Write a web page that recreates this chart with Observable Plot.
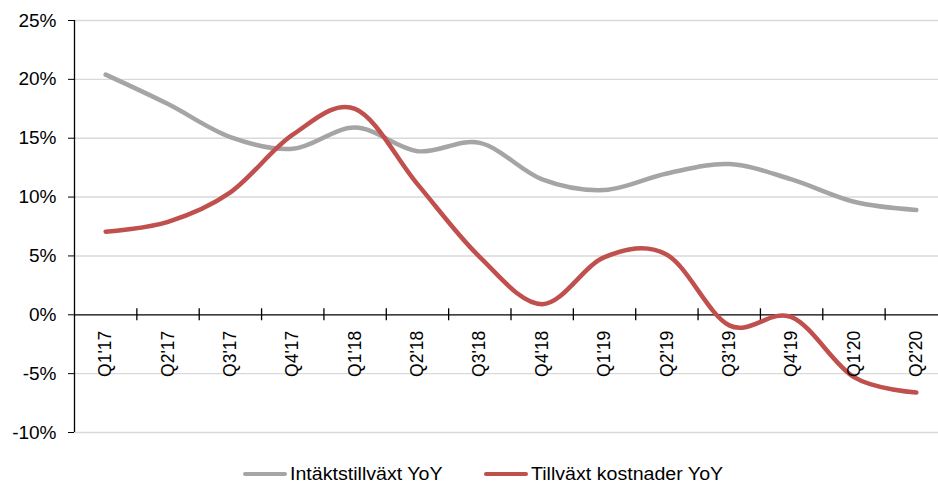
<!DOCTYPE html>
<html><head><meta charset="utf-8">
<script src="https://cdn.jsdelivr.net/npm/d3@7"></script>
<script src="https://cdn.jsdelivr.net/npm/@observablehq/plot@0.6"></script>
<style>
body{margin:0;background:#fff;overflow:hidden;font-family:"Liberation Sans",Arial,sans-serif;}
#legend{position:relative;height:28px;width:938px;}
.item{position:absolute;top:5px;height:28px;display:flex;align-items:center;}
.sw{width:44px;height:4.5px;border-radius:2px;margin-right:3px;}
.lt{font-size:17.5px;color:#000;transform:scaleX(1.12);transform-origin:left center;white-space:nowrap;}
</style></head><body>
<div id="chart"></div>
<div id="legend"></div>
<script>
const quarters = ["Q1'17","Q2'17","Q3'17","Q4'17","Q1'18","Q2'18","Q3'18","Q4'18","Q1'19","Q2'19","Q3'19","Q4'19","Q1'20","Q2'20"];
const revenueGrowth = [20.4, 17.9, 15.1, 14.1, 15.9, 13.9, 14.6, 11.5, 10.6, 12.0, 12.8, 11.5, 9.6, 8.9];
const costGrowth = [7.06, 7.9, 10.4, 15.3, 17.5, 11.1, 4.9, 0.9, 4.9, 5.1, -0.9, -0.2, -5.3, -6.6];
const yTicks = [-10, -5, 0, 5, 10, 15, 20, 25];
const seriesNames = ["Intäktstillväxt YoY", "Tillväxt kostnader YoY"];
const seriesColors = ["#a5a5a5", "#c0504d"];

const idx = quarters.map((_, i) => i);
const boundaries = d3.range(0.5, quarters.length, 1);

const plot = Plot.plot({
  width: 938, height: 455,
  marginLeft: 74, marginRight: 0, marginTop: 20, marginBottom: 23,
  x: {type: "linear", domain: [-0.5, quarters.length - 0.5], range: [74, 947], axis: null},
  y: {domain: [-10, 25], axis: null},
  style: {fontFamily: "'Liberation Sans', Arial, sans-serif", background: "#fff", overflow: "hidden"},
  marks: [
    Plot.ruleY(yTicks.filter(d => d !== 0), {stroke: "#d9d9d9", strokeWidth: 1.4}),
    Plot.axisY(yTicks, {anchor: "left", tickFormat: d => d + "%", tickSize: 6, tickPadding: 12, fontSize: 19, stroke: "#000", color: "#000", label: null}),
    Plot.ruleX([-0.5], {y1: -10, y2: 25, stroke: "#000", strokeWidth: 1.3}),
    Plot.ruleY([0], {stroke: "#000", strokeWidth: 1.3}),
    Plot.ruleX(boundaries, {y1: 0, y2: 0, insetTop: -6, insetBottom: -6, stroke: "#000", strokeWidth: 1.3}),
    Plot.line(idx, {x: i => i, y: i => revenueGrowth[i], curve: "cardinal", stroke: seriesColors[0], strokeWidth: 4.5, strokeLinecap: "round"}),
    Plot.line(idx, {x: i => i, y: i => costGrowth[i], curve: "cardinal", stroke: seriesColors[1], strokeWidth: 4.5, strokeLinecap: "round"}),
    Plot.text(idx, {x: i => i, y: () => 0, text: i => quarters[i], rotate: -90, textAnchor: "end", lineAnchor: "middle", dy: 16, fontSize: 17.5, fill: "#000"})
  ]
});
document.getElementById("chart").appendChild(plot);

const legend = document.getElementById("legend");
const lefts = [243, 484];
seriesNames.forEach((name, k) => {
  const item = document.createElement("div");
  item.className = "item";
  item.style.left = lefts[k] + "px";
  const sw = document.createElement("div");
  sw.className = "sw";
  sw.style.background = seriesColors[k];
  const t = document.createElement("span");
  t.className = "lt";
  t.textContent = name;
  item.appendChild(sw); item.appendChild(t);
  legend.appendChild(item);
});
</script>
</body></html>
